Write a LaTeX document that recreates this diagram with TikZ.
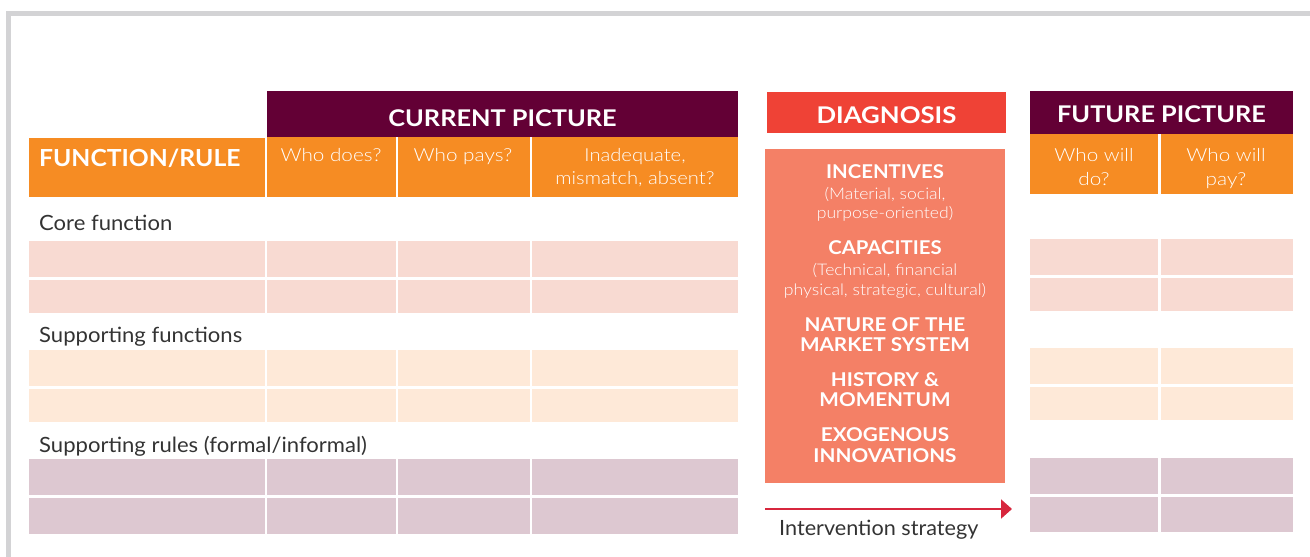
\documentclass[tikz,border=0pt]{standalone}
\usepackage{fontspec}
\setmainfont{Lato}
\newfontfamily\latolight{Lato Light}
\usetikzlibrary{arrows.meta}
\definecolor{purp}{HTML}{630035}
\definecolor{orng}{HTML}{F68C23}
\definecolor{diagred}{HTML}{EF4236}
\definecolor{salmon}{HTML}{F48066}
\definecolor{pinkrow}{HTML}{F8DAD2}
\definecolor{peachrow}{HTML}{FEE9D8}
\definecolor{mauverow}{HTML}{DDC8D1}
\definecolor{framegray}{HTML}{D3D3D5}
\definecolor{txt}{HTML}{333333}
\definecolor{arrred}{HTML}{D7263D}
\newcommand{\hsx}[2]{\scalebox{#1}[1]{#2}}
\begin{document}
\begin{tikzpicture}[x=1pt,y=-1pt,
  hd/.style={font=\fontsize{23}{24}\selectfont\bfseries, text=white, anchor=base, inner sep=0},
  sub/.style={font=\latolight\fontsize{18}{23}\selectfont, text=white, anchor=base, inner sep=0},
  lbl/.style={font=\fontsize{21}{24}\selectfont, text=txt, anchor=base west, inner sep=0},
  dg/.style={font=\fontsize{19}{20}\selectfont\bfseries, text=white, anchor=base, inner sep=0},
  dgs/.style={font=\latolight\fontsize{16}{19.5}\selectfont, text=white, anchor=base, inner sep=0}]
\useasboundingbox (0,0) rectangle (1310,557);
% frame
\fill[framegray] (6,11) rectangle (1310,16);
\fill[framegray] (6,11) rectangle (11,557);
% headers
\fill[orng] (29,138) rectangle (265,197);
\fill[purp] (267,91) rectangle (738,137);
\foreach \a/\b in {267/395.7,397.7/530,532/738} \fill[orng] (\a,137) rectangle (\b,197);
\fill[diagred] (767,92) rectangle (1006,133);
\fill[salmon] (765,149) rectangle (1005,483);
\fill[purp] (1030,91) rectangle (1293,134);
\foreach \a/\b in {1030/1158,1161/1293} \fill[orng] (\a,134) rectangle (\b,194);
% current rows
\foreach \c/\t/\bt in {pinkrow/241/277,pinkrow/280/313,peachrow/350/386,peachrow/389/422,mauverow/459/495,mauverow/498/534}
  \foreach \a/\b in {29/265,267/395.7,397.7/530,532/738}
    \fill[\c] (\a,\t) rectangle (\b,\bt);
% future rows
\foreach \c/\t/\bt in {pinkrow/239/275,pinkrow/278/311,peachrow/348/384,peachrow/387/420,mauverow/458/494,mauverow/497/532}
  \foreach \a/\b in {1030/1158,1161/1293}
    \fill[\c] (\a,\t) rectangle (\b,\bt);
% header texts
\node[hd, anchor=base west, font=\fontsize{23.5}{24}\selectfont\bfseries] (fr) at (39,166) {\hsx{1.05}{FUNCTION/RULE}};
\node[hd] (cp) at (502.5,126) {\hsx{1.1}{CURRENT PICTURE}};
\node[sub] (wd) at (331,161) {\hsx{1.15}{Who does?}};
\node[sub] (wp) at (463,161) {\hsx{1.15}{Who pays?}};
\node[sub] (ina1) at (635,161) {\hsx{1.12}{Inadequate,}};
\node[sub] (ina2) at (635,184) {\hsx{1.12}{mismatch, absent?}};
\node[hd] (dgh) at (886.5,123) {\hsx{1.12}{DIAGNOSIS}};
\node[hd] (fp) at (1161.5,122) {\hsx{1.1}{FUTURE PICTURE}};
\node[sub] (fwd1) at (1094,161) {\hsx{1.15}{Who will}};
\node[sub] (fwd2) at (1094,185) {\hsx{1.15}{do?}};
\node[sub] (fwp1) at (1226,161) {\hsx{1.15}{Who will}};
\node[sub] (fwp2) at (1226,185) {\hsx{1.15}{pay?}};
% row labels
\node[lbl] (core) at (39,230) {\hsx{1.05}{Core function}};
\node[lbl] (supf) at (39,342) {\hsx{1.05}{Supporting functions}};
\node[lbl] (supr) at (39,452) {\hsx{1.05}{Supporting rules (formal/informal)}};
% diagnosis box
\node[dg] (inc) at (885,178) {\hsx{1.07}{INCENTIVES}};
\node[dgs] (incs1) at (885,199) {\hsx{1.1}{(Material, social,}};
\node[dgs] (incs2) at (885,218) {\hsx{1.1}{purpose-oriented)}};
\node[dg] (cap) at (885,254) {\hsx{1.07}{CAPACITIES}};
\node[dgs] (caps1) at (885,275) {\hsx{1.1}{(Technical, financial}};
\node[dgs] (caps2) at (885,295) {\hsx{1.1}{physical, strategic, cultural)}};
\node[dg] (nat1) at (885,331) {\hsx{1.09}{NATURE OF THE}};
\node[dg] (nat2) at (885,351) {\hsx{1.09}{MARKET SYSTEM}};
\node[dg] (his1) at (885,386) {\hsx{1.09}{HISTORY \&}};
\node[dg] (his2) at (885,406) {\hsx{1.09}{MOMENTUM}};
\node[dg] (exo1) at (885,441) {\hsx{1.09}{EXOGENOUS}};
\node[dg] (exo2) at (885,462) {\hsx{1.09}{INNOVATIONS}};
% arrow
\coordinate (arrS) at (765,509);
\coordinate (arrE) at (1012,509);
\draw[arrred, line width=2pt, -{Triangle[length=11pt,width=19pt]}] (arrS) -- (arrE);
\node[lbl] (int) at (779,535) {\hsx{1.03}{Intervention strategy}};
\end{tikzpicture}
\end{document}
